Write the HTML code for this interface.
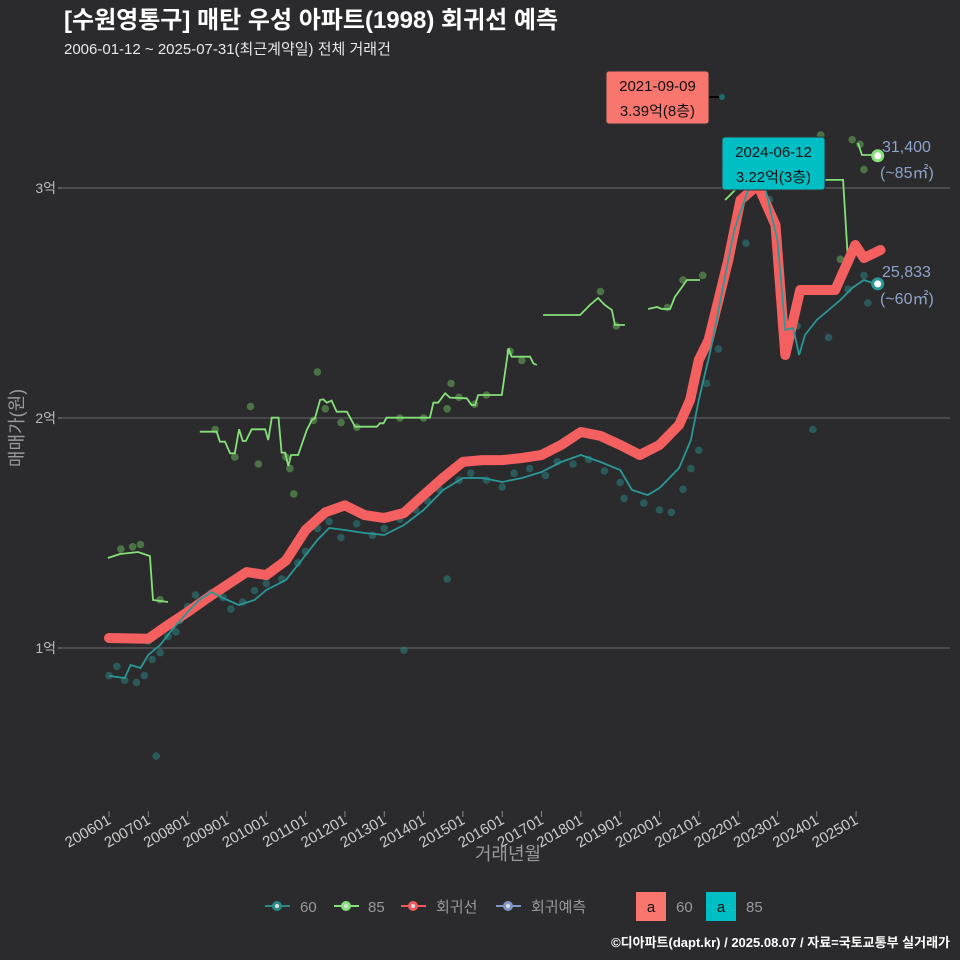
<!DOCTYPE html>
<html><head><meta charset="utf-8">
<style>
body{margin:0;background:#2b2b2d;}
svg{display:block;font-family:"Liberation Sans","Noto Sans CJK KR",sans-serif;}
</style></head>
<body>
<svg id="chart" width="960" height="960" viewBox="0 0 960 960" xmlns="http://www.w3.org/2000/svg">
<rect width="960" height="960" fill="#2b2b2d"/>
<text x="64" y="28" font-size="24" font-weight="bold" fill="#ffffff">[수원영통구] 매탄 우성 아파트(1998) 회귀선 예측</text>
<text x="64" y="54" font-size="15" fill="#e8e8e8">2006-01-12 ~ 2025-07-31(최근계약일) 전체 거래건</text>
<g id="grid"></g>
<g id="marks"></g>
<g id="xaxis"></g>
<text x="508" y="860" font-size="18" fill="#999" text-anchor="middle">거래년월</text>
<text transform="translate(23,428) rotate(-90)" font-size="18" fill="#999" text-anchor="middle">매매가(원)</text>
<g>
<line x1="709" y1="97" x2="720" y2="97" stroke="#000" stroke-width="2"/>
<circle cx="722" cy="97" r="3" fill="#1d6d6b"/>
<rect x="606" y="71" width="103" height="53" rx="3" fill="#f8766d" stroke="#333"/>
<text x="657.5" y="91" font-size="15" fill="#111" text-anchor="middle">2021-09-09</text>
<text x="657.5" y="116" font-size="15" fill="#111" text-anchor="middle">3.39억(8층)</text>
</g>
<g>
<rect x="722" y="137" width="103" height="53" rx="3" fill="#00bfc4" stroke="#333"/>
<text x="773.5" y="157" font-size="15" fill="#111" text-anchor="middle">2024-06-12</text>
<text x="773.5" y="182" font-size="15" fill="#111" text-anchor="middle">3.22억(3층)</text>
</g>
<g font-size="16" fill="#8fa3c8">
<text x="882" y="152">31,400</text><text x="880" y="178">(~85㎡)</text>
</g>
<g font-size="16" fill="#8fa3c8">
<text x="882" y="277">25,833</text><text x="880" y="304">(~60㎡)</text>
</g>
<g font-size="15" fill="#999">
<g><line x1="265" y1="906" x2="290" y2="906" stroke="#2a8a88" stroke-width="2"/><circle cx="277" cy="906" r="5" fill="#2a8a88"/><circle cx="277" cy="906" r="2" fill="#ddd"/><text x="300" y="912">60</text></g>
<g><line x1="334" y1="906" x2="359" y2="906" stroke="#86e07a" stroke-width="2"/><circle cx="346" cy="906" r="5" fill="#86e07a"/><circle cx="346" cy="906" r="2" fill="#ddd"/><text x="368" y="912">85</text></g>
<g><line x1="401" y1="906" x2="426" y2="906" stroke="#f05a5a" stroke-width="2"/><circle cx="413" cy="906" r="5" fill="#f05a5a"/><circle cx="413" cy="906" r="2" fill="#ddd"/><text x="436" y="912">회귀선</text></g>
<g><line x1="496" y1="906" x2="521" y2="906" stroke="#7f97c4" stroke-width="2"/><circle cx="508" cy="906" r="5" fill="#7f97c4"/><circle cx="508" cy="906" r="2" fill="#ddd"/><text x="531" y="912">회귀예측</text></g>
<g><rect x="636" y="892" width="30" height="29" fill="#f8766d"/><text x="651" y="912" fill="#111" text-anchor="middle">a</text><text x="676" y="912">60</text></g>
<g><rect x="706" y="892" width="30" height="29" fill="#00bfc4"/><text x="721" y="912" fill="#111" text-anchor="middle">a</text><text x="746" y="912">85</text></g>
</g>
<text x="950" y="947" font-size="13" font-weight="bold" fill="#fff" text-anchor="end">©디아파트(dapt.kr) / 2025.08.07 / 자료=국토교통부 실거래가</text>
</svg>
<script>
const yTicks=[10000,20000,30000];
const yTickLabels=["1억","2억","3억"];
const xTickYears=[2006,2007,2008,2009,2010,2011,2012,2013,2014,2015,2016,2017,2018,2019,2020,2021,2022,2023,2024,2025];
const xTickLabels=["200601","200701","200801","200901","201001","201101","201201","201301","201401","201501","201601","201701","201801","201901","202001","202101","202201","202301","202401","202501"];
const regT=[2006.0,2007.0,2007.5,2008.0,2008.5,2009.0,2009.5,2010.0,2010.5,2011.0,2011.5,2012.0,2012.5,2013.0,2013.5,2014.0,2014.5,2015.0,2015.5,2016.0,2016.5,2017.0,2017.5,2018.0,2018.5,2019.0,2019.5,2020.0,2020.5,2020.78,2021.0,2021.25,2021.5,2021.75,2022.06,2022.5,2022.95,2023.2,2023.58,2024.47,2024.98,2025.2,2025.62];
const regV=[10435,10400,11000,11565,12170,12740,13300,13170,13800,15130,15900,16200,15780,15650,15870,16650,17400,18090,18170,18170,18260,18390,18830,19390,19220,18830,18390,18830,19700,20783,22520,23390,25130,26870,29480,30130,28391,22740,25565,25565,27522,26957,27305];
const s60T=[2006.0,2006.4,2006.55,2006.8,2007.0,2007.3,2007.6,2008.0,2008.3,2008.6,2008.9,2009.3,2009.7,2010.0,2010.5,2010.9,2011.3,2011.6,2012.0,2012.5,2013.0,2013.5,2014.0,2014.5,2015.0,2015.5,2016.0,2016.5,2017.0,2017.5,2018.0,2018.5,2019.0,2019.3,2019.7,2020.0,2020.5,2020.8,2021.0,2021.3,2021.6,2021.9,2022.3,2022.7,2023.0,2023.2,2023.4,2023.55,2023.7,2024.0,2024.3,2024.6,2024.9,2025.2,2025.5];
const s60V=[8783,8696,9261,9130,9696,10130,10783,11565,12087,12435,12174,11870,12087,12522,12957,13826,14696,15218,15130,15000,14913,15348,16000,16870,17391,17391,17217,17391,17652,18087,18391,18087,17739,16870,16652,16957,17826,19043,20783,22957,25565,28174,30130,29913,27740,23826,23913,22740,23609,24261,24696,25130,25652,26000,25826];
const s85T=[2005.97,2006.28,2006.74,2007.04,2007.12,2007.5,null,2008.31,2008.74,2008.82,2008.95,2009.08,2009.2,2009.31,2009.4,2009.48,2009.63,2009.97,2010.05,2010.14,2010.31,2010.39,2010.48,2010.56,2010.63,2010.81,2011.03,2011.16,2011.24,2011.37,2011.45,2011.54,2011.66,2011.79,2012.05,2012.26,2012.81,2012.89,2012.98,2013.06,2014.16,2014.25,2014.37,2014.55,2014.67,2015.1,2015.22,2015.31,2015.39,2015.99,2016.16,2016.24,2016.71,2016.79,2016.88,null,2017.04,2017.98,2018.23,2018.44,2018.61,2018.79,2018.87,2019.12,null,2019.71,2019.94,2020.06,2020.27,2020.39,2020.7,2021.03,null,2021.67,2022.05,2024.18,2024.67,2024.79,2024.9,null,2025.05,2025.15,2025.43];
const s85V=[13913,14087,14174,14000,12087,12000,null,19405,19405,18970,18970,18465,18465,19510,19000,19000,19510,19510,19045,20015,20015,18490,18490,17915,18390,18390,19480,19915,19985,20785,20815,20665,20755,20275,20275,19620,19620,19770,19770,20015,20015,20665,20665,21075,20885,20855,20565,20565,21000,21000,23030,22665,22665,22380,22305,null,24479,24479,24913,25218,24913,24696,24044,24044,null,24740,24826,24740,24740,25262,26000,26000,null,29480,30130,30350,30350,26957,26957,null,31957,31435,31435];
const pts60T=[2006.0,2006.2,2006.4,2006.7,2006.9,2007.1,2007.0,2007.3,2007.5,2007.7,2007.8,2008.0,2008.2,2008.6,2008.9,2009.1,2009.4,2009.7,2010.0,2010.4,2010.8,2011.0,2011.3,2011.6,2011.9,2012.3,2012.7,2013.0,2013.4,2013.8,2014.1,2014.4,2014.6,2014.9,2015.2,2015.6,2016.0,2016.3,2016.7,2017.1,2017.4,2017.8,2018.2,2018.6,2019.0,2019.1,2019.6,2020.0,2020.3,2020.6,2020.8,2021.0,2021.2,2021.5,2022.2,2022.8,2023.5,2023.9,2024.3,2024.8,2025.2,2025.3,2007.2,2013.5];
const pts60V=[8800,9200,8600,8500,8800,9500,10300,9800,10500,10700,11200,11800,12300,12400,12200,11700,12000,12500,12800,13000,13700,14200,15200,15500,14800,15400,14900,15200,15600,16000,16400,16900,13000,17300,17600,17300,17000,17600,17800,17500,18100,18000,18200,17700,17200,16500,16300,16000,15900,16900,17800,18600,21500,23000,27600,29500,24000,19500,23500,25600,26200,25000,5300,9900];
const pts85T=[2006.3,2006.6,2006.8,2007.3,2008.7,2009.2,2009.6,2009.8,2010.5,2010.6,2010.7,2011.2,2011.5,2011.3,2011.9,2012.3,2013.4,2014.0,2014.6,2014.7,2014.9,2015.3,2015.6,2016.2,2016.5,2018.5,2018.9,2020.2,2020.6,2021.1,2024.1,2024.6,2025.1,2025.2,2024.9];
const pts85V=[14300,14400,14500,12100,19500,18300,20500,18000,18300,17800,16700,19900,20400,22000,19800,19600,20000,20000,20400,21500,20900,20600,21000,22900,22500,25500,24000,24800,26000,26200,32300,26900,31900,30800,32100];
const last60=[2025.55,25833];
const last85=[2025.55,31400];

const NS="http://www.w3.org/2000/svg";
function X(t){return 109+(t-2006)*39.32;}
function Y(v){return 648-(v-10000)*0.023;}
function mk(tag,attrs,parent){const e=document.createElementNS(NS,tag);for(const k in attrs)e.setAttribute(k,attrs[k]);parent.appendChild(e);return e;}
const grid=document.getElementById('grid'),marks=document.getElementById('marks'),xa=document.getElementById('xaxis');

yTicks.forEach((v,i)=>{
  const l=mk('line',{x1:62,x2:950,y1:Y(v),y2:Y(v),stroke:'#6a6a6a','stroke-width':1},grid);
  
  
  const tk=mk('line',{x1:58,x2:62,y1:Y(v),y2:Y(v),stroke:'#888'},grid);
  
  
  const t=mk('text',{x:56,y:Y(v)+5,'font-size':14,fill:'#bbb','text-anchor':'end'},grid);
  t.textContent=yTickLabels[i];
  
  
});
xTickYears.forEach((yr,i)=>{
  const x=X(yr);
  const tk=mk('line',{x1:x,x2:x,y1:811,y2:817,stroke:'#888'},xa);
  
  
  const t=mk('text',{transform:`translate(${x+3},${823}) rotate(-30)`,'font-size':15,fill:'#ccc','text-anchor':'end'},xa);
  t.textContent=xTickLabels[i];
  
  
});
function pathFrom(T,V){let d='',pen=false;for(let i=0;i<T.length;i++){if(T[i]===null){pen=false;continue;}d+=(pen?'L':'M')+X(T[i]).toFixed(1)+','+Y(V[i]).toFixed(1);pen=true;}return d;}

pts60T.forEach((t,i)=>{
  const c=mk('circle',{cx:X(t),cy:Y(pts60V[i]),r:3.8,fill:'#2a8a88','fill-opacity':0.5},marks);
  
  
});
pts85T.forEach((t,i)=>{
  const c=mk('circle',{cx:X(t),cy:Y(pts85V[i]),r:3.8,fill:'#6dbb5e','fill-opacity':0.5},marks);
  
  
});
const p85=mk('path',{d:pathFrom(s85T,s85V),fill:'none',stroke:'#86e07a','stroke-width':1.8},marks);


const reg=mk('path',{d:pathFrom(regT,regV),fill:'none',stroke:'#f45f5f','stroke-width':10,'stroke-linejoin':'round','stroke-linecap':'round'},marks);


const p60=mk('path',{d:pathFrom(s60T,s60V),fill:'none',stroke:'#2a9896','stroke-width':1.8},marks);


const e85=mk('circle',{cx:X(last85[0]),cy:Y(last85[1]),r:5,fill:'#fff',stroke:'#86e07a','stroke-width':3},marks);


const e60=mk('circle',{cx:X(last60[0]),cy:Y(last60[1]),r:5,fill:'#fff',stroke:'#2a9896','stroke-width':3},marks);


</script>
</body></html>
